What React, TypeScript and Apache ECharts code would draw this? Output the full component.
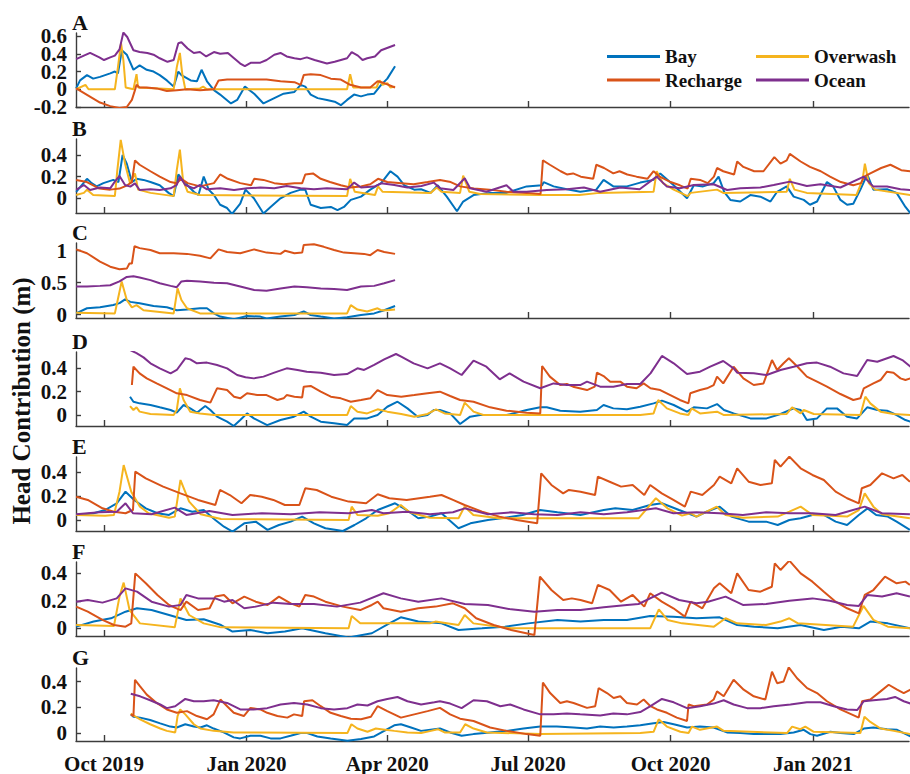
import React, { useEffect, useRef } from 'react';
import * as echarts from 'echarts';

type P = [number, number]; // [days since 2019-10-01, head contribution (m)]

const SERIES_NAMES = ['Bay', 'Overwash', 'Recharge', 'Ocean'];
const SERIES_COLORS = ['#0072BD', '#F5B41E', '#D95319', '#7E2F8E'];

const TICK_DATES = ['2019-10-01', '2020-01-01', '2020-04-01', '2020-07-01', '2020-10-01', '2021-01-01'];
const TICK_LABELS = ['Oct 2019', 'Jan 2020', 'Apr 2020', 'Jul 2020', 'Oct 2020', 'Jan 2021'];
const X_MIN_DAY = -18.1;
const X_MAX_DAY = 520;

const Y_TITLE = 'Head Contribution (m)';
const PANEL_LETTERS = ['A', 'B', 'C', 'D', 'E', 'F', 'G'];
const Y_MIN = [-0.2, -0.136, -0.052, -0.094, -0.092, -0.056, -0.058];
const Y_MAX = [0.635, 0.548, 1.12, 0.54, 0.525, 0.483, 0.504];
const Y_TICKS = [
  [-0.2, 0, 0.2, 0.4, 0.6],
  [0, 0.2, 0.4],
  [0, 0.5, 1],
  [0, 0.2, 0.4],
  [0, 0.2, 0.4],
  [0, 0.2, 0.4],
  [0, 0.2, 0.4],
];
// tick labels that the axis renderer suppresses; placed from the panel's y scale instead
const MANUAL_Y_LABELS: { panel: number; value: number }[] = [{ panel: 2, value: 0.5 }];

// ---------- Panel A ----------
const A_BAY: P[] = [[-18,.01],[-15.5,.1],[-11,.16],[-7,.12],[-2.6,.14],[4,.18],[7,.2],[9,.18],[11.5,.44],[14.7,.39],[19,.22],[23,.27],[27.6,.22],[32,.2],[36,.16],[40.6,.1],[45,.03],[48,.2],[50,.16],[56,.1],[60,.09],[63,.22],[66.5,.09],[71,-.01],[75,-.06],[82,-.16],[86,-.12],[91,.03],[97,-.05],[103,-.16],[110,-.1],[116,-.05],[123,-.03],[127,.05],[130,.03],[133.5,-.06],[138,-.1],[144,-.12],[149,-.14],[153,-.18],[157,-.12],[161.5,-.06],[166,-.08],[170,-.06],[174.5,-.05],[179,.05],[183,.12],[188,.26]];
const A_OVERWASH: P[] = [[-18,0],[-12,.05],[-10,0],[7,0],[9,.25],[11,.52],[12.5,.33],[14,.02],[19,0],[21,.17],[22,.02],[45,0],[47,.25],[49,.41],[50.5,.18],[52.5,0],[62,.01],[64,.03],[66.5,0],[157,0],[159,.17],[161,.02],[176,.02],[178,.1],[180,.05],[183,.07],[185,.02],[188,.03]];
const A_RECHARGE: P[] = [[-18,.01],[-2.6,-.15],[4,-.19],[10,-.21],[14.7,-.2],[18,-.12],[20,-.01],[21,.05],[23,.02],[27.6,.02],[34,.01],[40.6,-.02],[47,-.01],[53.6,0],[62,-.01],[71,0],[74,.1],[79.5,.11],[88,.11],[97,.11],[105,.11],[114,.09],[123,.08],[127,.05],[129,.16],[133.5,.17],[140,.16],[146.5,.12],[153,.11],[159,.05],[166,.02],[172,.02],[176.7,.09],[181,.07],[188,.02]];
const A_OCEAN: P[] = [[-18,.34],[-13,.38],[-9,.41],[-3,.36],[0,.33],[4,.36],[7,.38],[10,.45],[12.5,.64],[15,.59],[19,.44],[23,.42],[28,.41],[32,.39],[36,.35],[41,.31],[45,.33],[48,.52],[50,.53],[54,.46],[58,.41],[62,.42],[66,.37],[71,.42],[75,.40],[80,.41],[84,.35],[88,.29],[91,.26],[95,.30],[101,.30],[105,.33],[110,.39],[114,.41],[118,.37],[123,.35],[127,.34],[131,.36],[136,.33],[140,.31],[144,.29],[149,.31],[153,.33],[157,.35],[160,.42],[164,.38],[167,.33],[170,.35],[175,.37],[179,.44],[182,.46],[185,.48],[188,.50]];

// ---------- Panel B ----------
const B_BAY: P[] = [[-18,.06],[-14.5,.12],[-11,.18],[-8,.14],[-4.8,.11],[-0.4,.14],[6,.17],[9.3,.15],[12,.4],[14.7,.32],[18,.15],[21,.18],[25.5,.17],[30,.15],[36,.12],[41.7,.05],[45,.02],[48,.22],[52.5,.14],[58,.06],[61,.03],[64.4,.2],[67.6,.08],[71,.03],[75,-.06],[79.5,-.09],[82.7,-.145],[88,-.05],[91.4,.08],[96.8,0],[103,-.14],[107.6,-.08],[114,0],[120.5,.05],[127,.08],[130,.08],[133.5,-.06],[140,-.09],[146.5,-.08],[150.8,-.11],[155,-.08],[159.4,-.015],[166,.015],[172,.08],[179,.14],[185,.25],[189.6,.2],[194,.12],[200.4,.08],[204.8,.083],[211,.05],[215.6,.12],[221.4,.015],[228,-.12],[232,-.03],[238.7,.03],[249.4,.05],[260,.05],[273,.11],[283,.12],[284,.15],[290.4,.11],[299,.083],[307.6,.06],[318,.08],[322.7,.17],[329,.11],[337.8,.11],[346.4,.145],[355,.17],[359.3,.23],[368,.12],[376.6,0],[381,.12],[387,.11],[393.8,.14],[397,.2],[400.6,.06],[404.6,-.015],[411,-.03],[417.5,.03],[424,.015],[430.5,-.03],[434.8,.06],[441,.11],[445.5,.015],[452,-.015],[456,-.06],[460.6,-.03],[467,.15],[471,.11],[475.7,-.015],[480,-.06],[484,-.05],[488.6,.08],[493,.22],[497,.08],[505.8,.083],[512,.05],[517.7,-.08],[521,-.14]];
const B_OVERWASH: P[] = [[-18,.03],[-13,.05],[-11,.08],[-7,.03],[7,.02],[8.6,.26],[10.8,.54],[13.6,.32],[16.8,.14],[20,.23],[22,.08],[30,.05],[45,.02],[47,.26],[49,.45],[51,.17],[54,.06],[62,.03],[157,.02],[159,.18],[162,.06],[175,.03],[177,.11],[180,.06],[211,.05],[215,.1],[218,.06],[230,.05],[232,.21],[236,.06],[243,.04],[282,.03],[307,.03],[320,.05],[355,.06],[357,.25],[361,.14],[368,.08],[377,.02],[379,.05],[396,.08],[400,.05],[441,.06],[443,.18],[446,.08],[454,.05],[486,.03],[490,.17],[491.5,.32],[494,.14],[498,.08],[521,.03]];
const B_RECHARGE: P[] = [[-18,.17],[-11,.15],[-3,.09],[4,.08],[10,.09],[15,.12],[18,.15],[20,.35],[23,.31],[30,.25],[36,.2],[43,.15],[47,.14],[50,.18],[54,.14],[62,.11],[71,.14],[75,.22],[80,.18],[88,.14],[95,.12],[97,.18],[103,.17],[110,.14],[116,.13],[123,.14],[128,.14],[130,.22],[135,.23],[140,.18],[146,.15],[153,.12],[159,.1],[166,.11],[172,.13],[177,.18],[183,.15],[192,.14],[200,.13],[209,.15],[217,.17],[224,.15],[230,.11],[239,.09],[249,.08],[260,.06],[273,.05],[282,.04],[283.5,.35],[288,.31],[295,.25],[299,.22],[303,.23],[308,.2],[316,.18],[318,.31],[323,.28],[329,.23],[333,.25],[338,.22],[344,.2],[351,.18],[355,.25],[359,.2],[366,.15],[372,.12],[377,.09],[379,.18],[385,.17],[390,.14],[394,.2],[396,.28],[400,.25],[407,.22],[409,.34],[413,.29],[420,.25],[426,.25],[433,.38],[437,.32],[441,.35],[443,.41],[450,.34],[456,.29],[463,.25],[469,.2],[476,.15],[484,.12],[489,.14],[491,.2],[495,.23],[502,.28],[508,.31],[515,.26],[521,.25]];
const B_OCEAN: P[] = [[-18,.077],[-13,.123],[-9,.077],[-2.6,.1],[4,.092],[7,.154],[10,.206],[13.6,.123],[17,.108],[20,.138],[23,.077],[30,.083],[36,.077],[43,.092],[47,.123],[49,.2],[52.5,.123],[58,.092],[62,.123],[66.5,.083],[75,.092],[84,.077],[92.4,.092],[101,.1],[110,.092],[118,.114],[127,.092],[135.6,.083],[144,.092],[157,.083],[161.6,.145],[166,.1],[174.5,.108],[179,.138],[187.5,.123],[196,.1],[205,.114],[213,.145],[217,.092],[225.7,.077],[233,.185],[236.5,.092],[247,.06],[260,.12],[264.5,.06],[273,.06],[286,.077],[299,.083],[310,.1],[320.5,.06],[333.5,.1],[346,.083],[357,.2],[363.6,.108],[372,.092],[381,.123],[393.8,.13],[402.5,.077],[411,.092],[424,.1],[432.6,.123],[443,.154],[454,.114],[462.8,.13],[475.7,.1],[490.8,.2],[497,.108],[505.8,.108],[514.5,.083],[521,.077]];

// ---------- Panel C ----------
const C_BAY: P[] = [[-18,.02],[-11,.1],[-2.6,.115],[6,.15],[10,.18],[13.6,.24],[17,.2],[23,.18],[32,.135],[40.6,.115],[47,.07],[53.6,.08],[62,.1],[66.5,.1],[71,.02],[75,-.03],[84,-.07],[92.4,-.02],[101,-.03],[105,-.06],[114,-.03],[123,-.005],[129,.05],[133.5,-.005],[140,-.03],[148.6,-.06],[157,-.04],[166,-.005],[174.5,.02],[181,.07],[188,.135]];
const C_OVERWASH: P[] = [[-18,.03],[7,.02],[9.3,.28],[11.4,.52],[14.7,.23],[18,.115],[21,.15],[25.5,.07],[45,.02],[47.5,.41],[50,.23],[53.6,.1],[62,.02],[157,.02],[159.4,.15],[163.7,.08],[170,.05],[176.7,.1],[179,.07],[183,.07],[188,.08]];
const C_RECHARGE: P[] = [[-18,1.02],[-11,.96],[-2.6,.83],[4,.75],[10,.71],[14.7,.72],[16.4,.8],[18,.8],[19.7,1.07],[23,1.04],[30,1.01],[36,.96],[45,.96],[53.6,.95],[62,.92],[68.7,.88],[74,1.02],[79.5,.98],[88,.96],[97,1.02],[105,.97],[114,.95],[117,1.0],[123,.96],[128,.97],[129,1.09],[135.6,1.1],[142,1.06],[148.6,1.01],[155,.97],[161.6,.96],[168,.95],[172,.93],[176.7,1.01],[181,.98],[188,.95]];
const C_OCEAN: P[] = [[-18,.44],[-11,.44],[-2.6,.45],[4,.46],[10,.52],[14.7,.59],[19,.6],[23,.58],[30,.54],[36,.49],[43,.45],[47,.43],[50,.52],[53.6,.53],[62,.52],[71,.5],[79.5,.49],[88,.44],[97,.385],[105,.375],[114,.41],[123,.44],[131,.43],[140,.41],[148.6,.4],[157,.385],[166,.44],[174.5,.45],[181,.49],[188,.54]];

// ---------- Panel D ----------
const D_BAY: P[] = [[16.8,.157],[19,.114],[23,.1],[30,.086],[36,.066],[43,.043],[47,.02],[51.4,.086],[55.7,.057],[60,.02],[65.4,.077],[68.7,.043],[73,-.014],[79.5,-.057],[83.8,-.094],[88,-.043],[92.4,.014],[96.8,-.029],[105.4,-.086],[114,-.043],[122.7,-.014],[129,.029],[133.5,-.014],[140,-.057],[148.6,-.071],[157,-.086],[161.6,-.029],[170,-.029],[176.7,0],[183,.071],[189.6,.114],[196,.057],[202.6,-.014],[209,0],[213,.043],[217,.043],[223.6,.014],[230,-.077],[236.5,-.014],[243,0],[260,0],[273,.043],[281.8,.066],[286,.066],[294.7,.037],[307.6,.029],[318.4,.043],[322.7,.086],[329,.057],[337.8,.049],[346.4,.071],[355,.1],[360.4,.123],[368,.086],[376.6,.029],[381,.066],[389.5,.057],[396,.094],[400.5,.043],[406.7,.014],[417.5,-.029],[428,-.029],[437,.009],[445.5,.057],[450,.043],[454,-.043],[460.6,-.029],[467,.057],[473.5,.057],[480,-.014],[486.5,-.029],[493,.066],[499.5,.043],[505.8,.037],[512,0],[517.7,-.043],[521,-.057]];
const D_OVERWASH: P[] = [[16.8,.077],[19,.043],[21,.066],[23,.029],[30,.009],[45,0],[47,.043],[49,.229],[51.4,.129],[55.7,.029],[62,.014],[71,0],[157,0],[159.4,.077],[163.7,.029],[170,.014],[176.7,.049],[183,.029],[192,.009],[200.4,-.014],[209,.009],[214.5,.049],[220,.014],[230,0],[233,.106],[238.7,.029],[245,0],[281.8,0],[346.4,0],[355,.014],[358,.129],[363.6,.057],[372,.014],[377.5,0],[379.6,.057],[385,.014],[396,.029],[400.5,0],[441,.009],[444.5,.066],[450,.014],[452,.043],[458.5,.009],[488.6,0],[491.8,.157],[495,.1],[501.6,.029],[510,.009],[521,0]];
const D_RECHARGE: P[] = [[18,.257],[19,.414],[23,.357],[27.6,.314],[34,.271],[40.6,.229],[47,.186],[53.6,.171],[62,.129],[68.7,.106],[73,.229],[79.5,.214],[84,.157],[88,.143],[92.4,.186],[99,.171],[105,.171],[112,.129],[116,.143],[118,.171],[123,.157],[128,.151],[129,.243],[133.5,.249],[140,.2],[146.5,.157],[153,.143],[159.4,.114],[166,.129],[172,.143],[176.7,.214],[183,.171],[192,.157],[200.4,.171],[209,.186],[217,.2],[223.6,.163],[230,.129],[238.7,.114],[249.4,.066],[260,.037],[273,.02],[281.8,.014],[283,.42],[288,.329],[294.7,.257],[299,.266],[303,.243],[312,.214],[317,.243],[318.4,.363],[322.7,.334],[327,.286],[333.5,.286],[337.8,.243],[344,.229],[348.6,.271],[353,.229],[359.3,.214],[365.8,.171],[372,.129],[377.5,.1],[378.7,.186],[385,.214],[389.5,.229],[393.8,.257],[396,.329],[400,.271],[406.7,.414],[413,.314],[419.7,.257],[426,.271],[431.5,.471],[434.8,.386],[439,.443],[442.4,.486],[448,.414],[454,.329],[460.6,.286],[467,.243],[475.7,.18],[484,.129],[488.6,.143],[490.8,.229],[497,.271],[501.6,.3],[505.8,.371],[510,.363],[514.5,.314],[517.7,.3],[521,.314]];
const D_OCEAN: P[] = [[16.8,.557],[21,.53],[25.5,.494],[30,.443],[36,.4],[43,.357],[47,.386],[52.5,.486],[55.7,.477],[60,.443],[66.5,.449],[73,.429],[79.5,.4],[86,.343],[91.4,.323],[96.8,.314],[103,.329],[110,.363],[118,.4],[125,.386],[131,.371],[140,.363],[148.6,.343],[157,.351],[163.7,.4],[168,.386],[174.5,.429],[181,.477],[188.6,.523],[192,.5],[200,.443],[209,.4],[217,.443],[223.6,.4],[231,.343],[238.7,.466],[247,.414],[255.6,.306],[262,.357],[271,.286],[281.8,.229],[290.4,.271],[299,.257],[307.6,.257],[312,.286],[320.5,.243],[329,.243],[337.8,.266],[346.4,.266],[353,.357],[360.4,.506],[368,.443],[376.6,.351],[385,.371],[391.6,.414],[400,.463],[406.7,.4],[409,.363],[419.7,.357],[428,.343],[437,.386],[445.5,.414],[454,.443],[460.6,.449],[469,.414],[477.7,.357],[486.5,.334],[493,.471],[499.5,.457],[510,.506],[515.7,.471],[521,.414]];

// ---------- Panel E ----------
const E_BAY: P[] = [[-18,.042],[-6.7,.056],[0.7,.083],[8.2,.139],[13.9,.236],[19.5,.167],[27,.097],[34.5,.056],[42,.042],[49.4,.097],[57,.069],[64.4,.083],[71.9,0],[77.5,-.056],[83,-.097],[90.6,-.028],[98,-.014],[105.6,-.083],[113,-.042],[120.6,-.014],[128,.028],[135.6,-.028],[143,-.069],[154.3,-.092],[161.8,-.042],[169.3,.014],[176.8,.083],[188,.139],[195.5,.083],[203,.014],[210.5,.028],[218,.056],[229,-.069],[236.7,-.028],[248,0],[259,.019],[270.4,.042],[281.6,.083],[292.9,.064],[307.8,.042],[322.8,.083],[330.3,.097],[341.5,.083],[352.8,.125],[360.3,.139],[371.5,.083],[382.7,.028],[388.4,.064],[397.7,.111],[405.2,.028],[416.4,-.014],[427.7,-.014],[435.2,-.042],[442.7,0],[450,.014],[457.6,.042],[465,.042],[472.6,-.014],[480,-.042],[487.6,.042],[493.2,.097],[498.8,.042],[506.3,.028],[512,-.014],[520.6,-.083]];
const E_OVERWASH: P[] = [[-18,.042],[0.7,.036],[6.4,.042],[10,.236],[12.7,.458],[17.6,.236],[23.2,.111],[28.8,.056],[42,.019],[45.7,.028],[49.4,.333],[55,.153],[62.5,.047],[75.6,.008],[158,0],[160,.111],[163.7,.042],[176.8,.036],[184.3,.056],[191.7,.125],[197.4,.064],[210.5,.019],[229,.014],[232.9,.111],[238.6,.042],[255.4,.014],[345.3,.014],[356.5,.181],[364,.097],[373.4,.036],[379,.056],[382.7,.028],[395.8,.111],[401.5,.042],[412.7,.019],[435.2,.028],[442.7,.069],[450,.111],[457.6,.042],[480,.028],[487.6,.083],[491.4,.222],[497,.111],[502.6,.047],[520.6,.014]];
const E_RECHARGE: P[] = [[-18,.194],[-10.5,.167],[-1,.097],[6.4,.069],[13.9,.056],[18.7,.083],[20.2,.403],[27,.347],[38.2,.278],[49.4,.222],[60.7,.167],[71.9,.125],[74.9,.25],[81.3,.208],[88.8,.139],[94.4,.208],[101.9,.194],[109.4,.167],[116.8,.125],[126.2,.125],[130,.264],[137.4,.25],[146.8,.194],[158,.153],[169.3,.139],[176.8,.214],[184.3,.181],[195.5,.167],[210.5,.194],[218,.208],[225.4,.167],[232.9,.125],[244.2,.069],[255.4,.028],[266.6,0],[279.8,-.028],[282.4,.389],[289,.292],[296.6,.222],[300.3,.25],[307.8,.236],[317.2,.208],[319,.361],[326.6,.319],[334,.278],[341.5,.292],[349,.208],[352.8,.292],[360.3,.222],[367.8,.167],[375.2,.111],[379,.236],[386.5,.208],[394,.292],[397.7,.361],[405.2,.306],[409,.431],[416.4,.319],[424,.292],[431.4,.306],[433.3,.5],[437,.444],[442.7,.528],[450,.431],[457.6,.375],[465,.333],[472.6,.236],[480,.181],[487.6,.139],[489.5,.264],[495,.292],[502.6,.389],[510,.347],[515.7,.375],[520.6,.319]];
const E_OCEAN: P[] = [[-18,.047],[-3,.064],[8.2,.069],[13.9,.139],[18.7,.056],[30.7,.047],[45.7,.103],[53.2,.042],[68,.075],[83,.042],[102,.056],[120.6,.047],[139.3,.064],[158,.056],[173,.083],[180.5,.056],[195.5,.069],[210.5,.047],[225.4,.064],[233,.097],[248,.047],[263,.064],[278,.047],[293,.042],[307.8,.064],[322.8,.047],[337.8,.064],[356.5,.097],[367.8,.056],[382.7,.064],[397.7,.056],[412.7,.042],[427.7,.064],[442.7,.056],[457.6,.056],[472.6,.042],[491.4,.111],[502.6,.056],[520.6,.047]];

// ---------- Panel F ----------
const F_BAY: P[] = [[-18,.012],[-6.7,.049],[4.5,.073],[13.9,.121],[21.3,.146],[30.7,.133],[42,.097],[53.2,.061],[64.4,.066],[75.6,.024],[83,-.024],[94.4,-.012],[105.6,-.036],[116.8,-.024],[128,0],[143,-.036],[158,-.066],[173,-.036],[184.3,.036],[191.7,.08],[203,.049],[218,.036],[229,-.012],[244.2,0],[259,.012],[274,.036],[292.9,.061],[307.8,.049],[322.8,.061],[337.8,.061],[352.8,.09],[367.8,.085],[382.7,.073],[397.7,.08],[409,.024],[420,.012],[435.2,0],[450,.024],[465,-.012],[476.4,.012],[487.6,0],[495,.049],[506.3,.036],[520.6,0]];
const F_OVERWASH: P[] = [[-18,.024],[6.4,.017],[10,.231],[12.7,.333],[16.5,.133],[23.2,.036],[45.7,.007],[49.4,.218],[55,.097],[64.4,.036],[75.6,.007],[158,0],[160,.09],[165.5,.036],[210.5,.036],[214,.049],[229,.024],[233,.097],[238.6,.036],[263,0],[352.8,0],[358.4,.138],[364,.061],[373.4,.036],[394,.012],[401.5,.073],[409,.036],[427.7,.024],[437,.049],[442.7,.073],[448.3,.036],[483.9,.012],[490.6,.163],[497,.061],[506.3,.012],[520.6,0]];
const F_RECHARGE: P[] = [[-18,.158],[-10.5,.121],[-1,.061],[6.4,.024],[13.9,.012],[17.6,.036],[20.2,.4],[27,.328],[34.5,.243],[42,.17],[49.4,.133],[53.2,.194],[60.7,.133],[68.2,.146],[71.9,.231],[77.5,.243],[83,.182],[90.6,.231],[98,.194],[105.6,.17],[113,.231],[120.6,.182],[126.2,.158],[130,.243],[135.6,.231],[143,.194],[154.3,.158],[165.5,.133],[173,.17],[176.8,.194],[180.5,.146],[191.7,.121],[203,.146],[214.2,.158],[225.4,.182],[233,.146],[240.4,.073],[251.7,.024],[263,-.012],[278,-.049],[281.6,.376],[289,.279],[296.6,.206],[302.2,.218],[307.8,.206],[315.3,.182],[319,.316],[326.6,.279],[334,.194],[341.5,.243],[349,.158],[352.8,.255],[360.3,.194],[367.8,.146],[375.2,.085],[379,.194],[386.5,.146],[394,.291],[397.7,.328],[405.2,.255],[409,.4],[416.4,.279],[424,.267],[431.4,.303],[433.3,.473],[437,.425],[442.7,.493],[450,.4],[457.6,.34],[465,.267],[472.6,.194],[480,.146],[487.6,.109],[491.4,.243],[497,.279],[504.5,.376],[512,.328],[517.7,.34],[520.6,.316]];
const F_OCEAN: P[] = [[-18,.194],[-10.5,.206],[-1,.187],[8.2,.218],[13.9,.291],[21.3,.267],[30.7,.194],[42,.158],[49.4,.17],[53.2,.243],[60.7,.218],[71.9,.218],[77.5,.194],[83,.206],[90.6,.146],[98,.158],[109.4,.187],[120.6,.177],[135.6,.177],[150.5,.158],[165.5,.187],[180.5,.255],[191.7,.218],[203,.194],[218,.218],[233,.177],[248,.17],[263,.138],[278,.121],[292.9,.133],[307.8,.133],[322.8,.153],[337.8,.17],[345.3,.177],[360.3,.26],[371.5,.206],[382.7,.182],[390.2,.194],[401.5,.231],[412.7,.17],[427.7,.177],[442.7,.201],[457.6,.218],[468.9,.201],[480,.17],[487.6,.163],[493.2,.243],[502.6,.231],[512,.255],[520.6,.231]];

// ---------- Panel G ----------
const G_BAY: P[] = [[17.3,.147],[19,.129],[23.3,.122],[29.8,.104],[36.3,.078],[42.8,.053],[47,.046],[52.5,.071],[58,.053],[62.2,.046],[66.5,.063],[70.8,.038],[77.3,.008],[83.8,-.03],[88,-.038],[94.6,-.018],[101,-.018],[107.6,-.038],[114,-.038],[120.5,-.018],[127,.003],[131.3,.003],[137.8,-.023],[146.4,-.038],[157.2,-.056],[166,-.043],[174.5,-.023],[181,.02],[187.5,.063],[191.8,.071],[198.3,.046],[204.8,.02],[213.4,.033],[217,.038],[223.6,.008],[231,-.018],[238.7,-.005],[249.4,.008],[260,.02],[271,.038],[281.8,.053],[292.5,.053],[303.3,.046],[312,.038],[320.5,.053],[329.2,.046],[337.8,.053],[346.4,.063],[355,.078],[361.5,.089],[368,.071],[376.6,.046],[385,.053],[393.8,.046],[402.4,.008],[411,.003],[419.7,-.005],[428.3,-.005],[437,-.005],[445.5,.008],[452,.028],[456.3,-.005],[460.6,-.018],[469.2,.013],[475.7,.003],[484.3,-.005],[490.8,.038],[497,.046],[505.8,.033],[512.3,.028],[516.6,.003],[521,-.023]];
const G_OVERWASH: P[] = [[17.3,.154],[19,.139],[23.3,.109],[29.8,.071],[36.3,.038],[40.6,.02],[46,.008],[47.5,.134],[49.2,.185],[52.5,.147],[58,.071],[62.2,.038],[70.8,.02],[83.8,.008],[157.2,.003],[159.8,.071],[163.7,.038],[170.2,.013],[175.6,.038],[179,.033],[187.5,.02],[196,.008],[204.8,.003],[211.2,.02],[215.6,.033],[220,.008],[230,.008],[233.3,.071],[238.7,.038],[247.3,.008],[281.8,-.005],[346.4,.003],[355,.013],[358.3,.109],[363.6,.053],[372.3,.013],[377.6,.003],[379.8,.053],[385,.028],[396,.053],[400.3,.02],[441.2,.003],[444.5,.053],[449.8,.033],[453,.053],[458.5,.013],[488.6,.003],[491.2,.129],[495,.089],[501.6,.038],[510.2,.02],[521,-.005]];
const G_RECHARGE: P[] = [[17.3,.147],[19,.134],[20,.413],[23.3,.362],[27.6,.299],[34,.235],[40.6,.185],[47,.159],[53.6,.172],[60,.134],[66.5,.109],[70.8,.147],[75.2,.261],[79.5,.21],[83.8,.159],[90.3,.134],[94.6,.197],[101,.185],[105.4,.159],[112,.134],[118.4,.122],[122.7,.147],[128,.134],[129.2,.248],[134.6,.256],[140,.21],[146.4,.159],[153,.134],[159.4,.114],[166,.109],[172.4,.129],[176.7,.21],[183,.172],[191.8,.122],[200.4,.147],[209,.172],[217,.197],[223.6,.147],[230,.114],[238.7,.096],[249.4,.046],[260,.02],[273,-.005],[281.8,-.018],[283.5,.392],[288.2,.311],[294.7,.235],[299,.248],[303.3,.235],[312,.197],[317.3,.21],[319.5,.349],[324.9,.311],[329.2,.273],[333.5,.286],[337.8,.235],[344.3,.223],[348.6,.261],[353,.21],[357.2,.185],[363.6,.159],[370,.122],[376.6,.096],[377.6,.223],[381,.21],[389.5,.223],[393.8,.261],[396,.324],[400.3,.286],[406.7,.413],[413.2,.337],[419.7,.286],[427.2,.261],[431.5,.476],[434.8,.387],[439,.4],[442.3,.509],[447.7,.425],[454.2,.349],[460.6,.311],[467,.248],[475.7,.185],[484.3,.139],[487.5,.122],[489.7,.248],[495,.261],[501.6,.324],[506.9,.375],[512.3,.337],[516.6,.311],[521,.337]];
const G_OCEAN: P[] = [[17.3,.306],[23.3,.286],[29.8,.256],[36.3,.223],[40.6,.195],[46,.21],[52.5,.266],[58,.248],[64.4,.248],[70.8,.256],[79.5,.235],[88,.185],[96.8,.185],[105.4,.195],[114,.223],[122.7,.235],[131.3,.223],[140,.195],[148.6,.185],[157.2,.195],[163.7,.223],[170.2,.215],[176.7,.248],[183,.266],[189.6,.281],[196,.248],[204.8,.223],[213.4,.24],[217,.248],[223.6,.23],[231,.195],[238.7,.256],[247.3,.248],[256,.21],[262.4,.223],[271,.185],[281.8,.147],[290.4,.147],[299,.154],[307.6,.147],[320.5,.139],[329,.154],[337.8,.147],[346.4,.165],[353,.21],[360.4,.266],[368,.24],[376.6,.195],[385,.21],[393.8,.23],[400.3,.256],[406.7,.223],[415.4,.195],[424,.195],[432.6,.21],[443.4,.223],[454,.24],[462.8,.24],[471.4,.21],[480,.185],[486.5,.18],[490.8,.248],[497,.256],[505.8,.266],[511,.281],[516.6,.248],[521,.23]];

const PANEL_DATA: P[][][] = [
  [A_BAY, A_OVERWASH, A_RECHARGE, A_OCEAN],
  [B_BAY, B_OVERWASH, B_RECHARGE, B_OCEAN],
  [C_BAY, C_OVERWASH, C_RECHARGE, C_OCEAN],
  [D_BAY, D_OVERWASH, D_RECHARGE, D_OCEAN],
  [E_BAY, E_OVERWASH, E_RECHARGE, E_OCEAN],
  [F_BAY, F_OVERWASH, F_RECHARGE, F_OCEAN],
  [G_BAY, G_OVERWASH, G_RECHARGE, G_OCEAN],
];

// layout
const CHART_W = 910;
const GRID_LEFT = 76;
const GRID_TOPS = [33, 139, 243, 352, 457, 562, 668];
const GRID_HEIGHTS = [74, 74, 75, 74, 74, 74, 74];
const Y_LABEL_MARGIN = 9;

const ORIGIN = Date.UTC(2019, 9, 1);
const DAY_MS = 86400000;
const toMs = (d: number) => ORIGIN + d * DAY_MS;
const TICK_MS = TICK_DATES.map((s) => Date.parse(s + 'T00:00:00Z'));

const FONT = '"Liberation Serif", "Times New Roman", serif';
const AXIS_COLOR = '#3c3c3c';
const TEXT_COLOR = '#111';

function fmtY(v: number) {
  const r = Math.round(v * 10) / 10;
  return r === 0 ? '0' : String(r);
}
function fmtX(v: number) {
  let best = 0;
  let bd = Infinity;
  TICK_MS.forEach((t, i) => {
    const d = Math.abs(t - v);
    if (d < bd) { bd = d; best = i; }
  });
  return bd < DAY_MS ? TICK_LABELS[best] : '';
}
const isManual = (panel: number, v: number) =>
  MANUAL_Y_LABELS.some((m) => m.panel === panel && Math.abs(m.value - v) < 1e-9);
// pixel row of a value on a panel's linear y scale
const yPixel = (panel: number, v: number) =>
  GRID_TOPS[panel] + (GRID_HEIGHTS[panel] * (Y_MAX[panel] - v)) / (Y_MAX[panel] - Y_MIN[panel]);

export default function App() {
  const ref = useRef<HTMLDivElement>(null);
  useEffect(() => {
    document.body.style.margin = '0';
    if (!ref.current) return;
    const chart = echarts.init(ref.current, undefined, { renderer: 'svg' });
    const n = PANEL_LETTERS.length;
    const grids: any[] = PANEL_LETTERS.map((_, i) => ({
      left: GRID_LEFT, right: 1, top: GRID_TOPS[i], height: GRID_HEIGHTS[i],
    }));
    // an empty helper grid whose y-axis carries the shared y-axis title
    grids.push({ left: GRID_LEFT, right: 1, top: 300, height: 202 });

    const xAxes: any[] = PANEL_LETTERS.map((_, i) => ({
      gridIndex: i,
      type: 'value',
      min: toMs(X_MIN_DAY),
      max: toMs(X_MAX_DAY),
      axisLine: { show: true, onZero: false, lineStyle: { color: AXIS_COLOR, width: 1.4 } },
      axisTick: { show: true, inside: true, length: 6, customValues: TICK_MS, lineStyle: { color: AXIS_COLOR, width: 1.4 } },
      axisLabel: {
        show: i === n - 1,
        customValues: TICK_MS,
        formatter: fmtX,
        margin: 12,
        color: TEXT_COLOR,
        fontFamily: FONT,
        fontWeight: 'bold',
        fontSize: 21,
        showMinLabel: true,
        showMaxLabel: true,
        hideOverlap: false,
      },
      splitLine: { show: false },
    }));
    xAxes.push({ gridIndex: n, type: 'value', show: false, min: 0, max: 1 });

    const labelStyle = {
      formatter: fmtY,
      margin: Y_LABEL_MARGIN,
      color: TEXT_COLOR,
      fontFamily: FONT,
      fontWeight: 'bold',
      fontSize: 21,
      showMinLabel: true,
      showMaxLabel: true,
      hideOverlap: false,
    };
    const yAxes: any[] = [];
    const primaryIndex: number[] = [];
    PANEL_LETTERS.forEach((_, i) => {
      const ticks = Y_TICKS[i];
      const labelled = ticks.filter((v) => !isManual(i, v));
      primaryIndex.push(yAxes.length);
      yAxes.push({
        gridIndex: i,
        type: 'value',
        position: 'left',
        min: Y_MIN[i],
        max: Y_MAX[i],
        axisLine: { show: true, onZero: false, lineStyle: { color: AXIS_COLOR, width: 1.4 } },
        axisTick: { show: true, inside: true, length: 5, customValues: ticks, lineStyle: { color: AXIS_COLOR, width: 1.4 } },
        axisLabel: { ...labelStyle, customValues: [labelled[0]] },
        splitLine: { show: false },
      });
      for (let j = 1; j < labelled.length; j++) {
        yAxes.push({
          gridIndex: i,
          type: 'value',
          position: 'left',
          offset: 0,
          min: Y_MIN[i],
          max: Y_MAX[i],
          axisLine: { show: false },
          axisTick: { show: false },
          axisLabel: { ...labelStyle, customValues: [labelled[j]] },
          splitLine: { show: false },
        });
      }
    });
    yAxes.push({
      gridIndex: n,
      type: 'value',
      position: 'left',
      min: 0,
      max: 1,
      z: 0,
      axisLine: { show: false },
      axisTick: { show: false },
      axisLabel: { show: false },
      splitLine: { show: false },
      name: Y_TITLE,
      nameLocation: 'middle',
      nameRotate: 90,
      nameGap: 42,
      nameTextStyle: { fontFamily: FONT, fontWeight: 'bold', fontSize: 25, color: TEXT_COLOR },
    });

    const series: any[] = [];
    PANEL_DATA.forEach((group, i) => {
      group.forEach((data, k) => {
        series.push({
          type: 'line',
          name: SERIES_NAMES[k],
          xAxisIndex: i,
          yAxisIndex: primaryIndex[i],
          data: data.map(([d, v]) => [toMs(d), v]),
          symbol: 'none',
          showSymbol: false,
          lineStyle: { color: SERIES_COLORS[k], width: 2 },
          itemStyle: { color: SERIES_COLORS[k] },
          emphasis: { disabled: true },
          z: 2 + k,
        });
      });
    });
    const legendCommon = {
      orient: 'vertical',
      top: 45,
      itemWidth: 53,
      itemHeight: 3,
      itemGap: 0.5,
      icon: 'rect',
      selectedMode: false,
      padding: 0,
      textStyle: { fontFamily: FONT, fontWeight: 'bold', fontSize: 19, color: TEXT_COLOR, lineHeight: 23 },
    };
    const graphic: any[] = PANEL_LETTERS.map((L, i) => ({
      type: 'text',
      x: 72,
      y: GRID_TOPS[i] - 10.5,
      z: 50,
      style: { text: L, font: `bold 22px ${FONT}`, fill: TEXT_COLOR, align: 'left', verticalAlign: 'middle' },
    }));
    // the suppressed tick labels, drawn as title texts right-aligned to the label column
    const titles: any[] = MANUAL_Y_LABELS.map((m) => ({
      text: fmtY(m.value),
      right: CHART_W - (GRID_LEFT - Y_LABEL_MARGIN),
      top: yPixel(m.panel, m.value) - 11,
      padding: 0,
      z: 100,
      textStyle: { fontFamily: FONT, fontWeight: 'bold', fontSize: 21, color: TEXT_COLOR, lineHeight: 22 },
    }));
    chart.setOption({
      animation: false,
      backgroundColor: '#fff',
      title: titles,
      grid: grids,
      xAxis: xAxes,
      yAxis: yAxes,
      legend: [
        { ...legendCommon, left: 607, data: ['Bay', 'Recharge'] },
        { ...legendCommon, left: 756, data: ['Overwash', 'Ocean'] },
      ],
      graphic,
      series,
    });
    return () => chart.dispose();
  }, []);
  return <div ref={ref} style={{ width: 910, height: 774 }} />;
}
